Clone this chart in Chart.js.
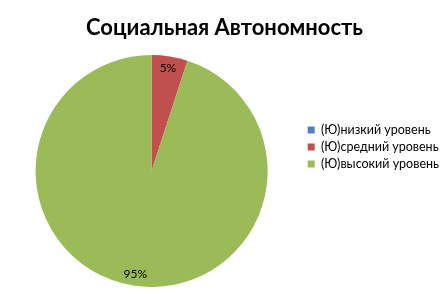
<!DOCTYPE html>
<html>
<head>
<meta charset="utf-8">
<script src="https://cdn.jsdelivr.net/npm/chart.js@4"></script>
<style>
  html, body { margin: 0; padding: 0; background: #fff; }
  #wrap { width: 446px; height: 294px; }
</style>
</head>
<body>
<div id="wrap"><canvas id="myChart"></canvas></div>
<script>
const categories = ['(Ю)низкий уровень', '(Ю)средний уровень', '(Ю)высокий уровень']
const values = [0, 5, 95]
const colors = ['#4F81BD', '#C0504D', '#9BBB59']
const title = 'Социальная Автономность'

// percent labels near the outer edge of each slice
const sliceLabels = {
  id: 'sliceLabels',
  afterDatasetsDraw(chart) {
    const c = chart.ctx
    const meta = chart.getDatasetMeta(0)
    c.save()
    c.font = '12px Lato'
    c.fillStyle = '#000'
    c.textAlign = 'center'
    c.textBaseline = 'middle'
    meta.data.forEach((arc, i) => {
      if (!values[i]) return
      const mid = (arc.startAngle + arc.endAngle) / 2
      const r = arc.outerRadius * 0.9
      c.fillText(values[i] + '%', arc.x + Math.cos(mid) * r, arc.y + Math.sin(mid) * r)
    })
    c.restore()
  }
}

// center legend on whole canvas height and nudge it right, like the original
const legendShift = {
  id: 'legendShift',
  afterLayout(chart) {
    const lg = chart.legend
    lg.top = 0
    lg.bottom = chart.height
    lg.left += 3
    lg.right += 3
  }
}

const ctx = document.getElementById('myChart')
new Chart(ctx, {
  type: 'pie',
  data: {
    labels: categories,
    datasets: [{
      data: values,
      backgroundColor: colors,
      borderWidth: 0
    }]
  },
  options: {
    responsive: true,
    maintainAspectRatio: false,
    animation: false,
    layout: { padding: { left: 3, right: 0, top: 0, bottom: 7 } },
    plugins: {
      title: {
        display: true,
        text: title,
        color: '#000',
        font: { family: 'Lato', size: 22, weight: 'bold' },
        padding: { top: 15, bottom: 13.6 }
      },
      legend: {
        position: 'right',
        labels: {
          boxWidth: 7,
          boxHeight: 7,
          padding: 4.5,
          color: '#000',
          font: { family: 'Lato', size: 12.5 }
        }
      },
      tooltip: { enabled: false }
    }
  },
  plugins: [sliceLabels, legendShift]
})
</script>
</body>
</html>
